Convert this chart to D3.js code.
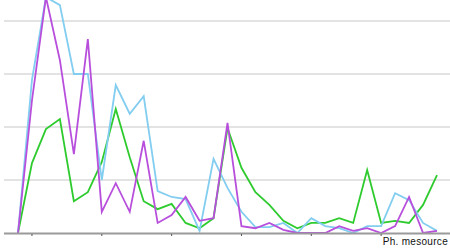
<!DOCTYPE html>
<html>
<head>
<meta charset="utf-8">
<script src="https://cdn.jsdelivr.net/npm/d3@7"></script>
<style>
  body { margin: 0; background: #fff; }
  svg { display: block; }
</style>
</head>
<body>
<div id="chart"></div>
<script>
// values, one per period (31 periods)
const blueValues = [0, 2.89, 4.45, 4.3, 3.0, 3.0, 1.0, 2.79, 2.25, 2.58, 0.79, 0.68, 0.64, 0.04, 1.4, 0.85,
    0.4, 0.11, 0.11, 0.19, 0, 0.28, 0.13, 0.09, 0, 0.13, 0.13, 0.75, 0.62, 0.19, 0.04];
const purpleValues = [0, 2.5, 4.45, 3.26, 1.49, 3.66, 0.4, 0.94, 0.4, 1.74, 0.19, 0.34, 0.68, 0.23, 0.28, 2.08,
    0.13, 0.09, 0.19, 0.06, 0, 0, 0, 0.13, 0.04, 0.09, 0, 0.13, 0.68, 0, 0.04];
const greenValues = [0, 1.32, 1.96, 2.15, 0.6, 0.77, 1.34, 2.34, 1.43, 0.6, 0.45, 0.55, 0.19, 0.09, 0.28, 1.98,
    1.23, 0.77, 0.53, 0.23, 0.09, 0.19, 0.19, 0.28, 0.19, 1.19, 0.19, 0.23, 0.19, 0.53, 1.09];
const gridValues = [1, 2, 3, 4];
const tickIndexes = [1, 6, 11, 16, 21, 26];
const sourceLabel = "Ph. mesource";

const width = 450, height = 249;

const svg = d3.select("#chart").append("svg")
    .attr("width", width)
    .attr("height", height);

const x = d3.scaleLinear().domain([0, blueValues.length - 1]).range([18, 437]);
const y = d3.scaleLinear().domain([0, 4]).range([233, 21]);

// Grid
svg.selectAll(".grid")
    .data(gridValues)
    .enter().append("line")
    .attr("x1", 4).attr("x2", width)
    .attr("y1", d => y(d)).attr("y2", d => y(d))
    .attr("stroke", "#c8c8c8")
    .attr("stroke-width", 1.2);

const plot = svg.append("g");

const line = d3.line()
    .x((d, i) => x(i))
    .y(d => y(d));

const series = [
    { values: greenValues, color: "#2ecb2e" },
    { values: blueValues, color: "#82cdf0" },
    { values: purpleValues, color: "#b84fdc" }
];

plot.selectAll(".series")
    .data(series)
    .enter().append("path")
    .attr("fill", "none")
    .attr("stroke", d => d.color)
    .attr("stroke-width", 1.8)
    .attr("stroke-linejoin", "miter")
    .attr("d", d => line(d.values));

// Baseline and ticks
svg.append("line")
    .attr("x1", 4).attr("x2", width)
    .attr("y1", y(0) + 0.5).attr("y2", y(0) + 0.5)
    .attr("stroke", "#9a9a9a")
    .attr("stroke-width", 2);

svg.selectAll(".tick")
    .data(tickIndexes)
    .enter().append("line")
    .attr("x1", d => x(d)).attr("x2", d => x(d))
    .attr("y1", y(0) + 1).attr("y2", y(0) + 3)
    .attr("stroke", "#555")
    .attr("stroke-width", 1);

// Source
svg.append("text")
    .attr("x", 448)
    .attr("y", 245)
    .attr("text-anchor", "end")
    .attr("font-family", "Liberation Sans, Arial, sans-serif")
    .attr("font-size", 10)
    .attr("letter-spacing", 0.3)
    .attr("fill", "#111")
    .text(sourceLabel);
</script>
</body>
</html>
